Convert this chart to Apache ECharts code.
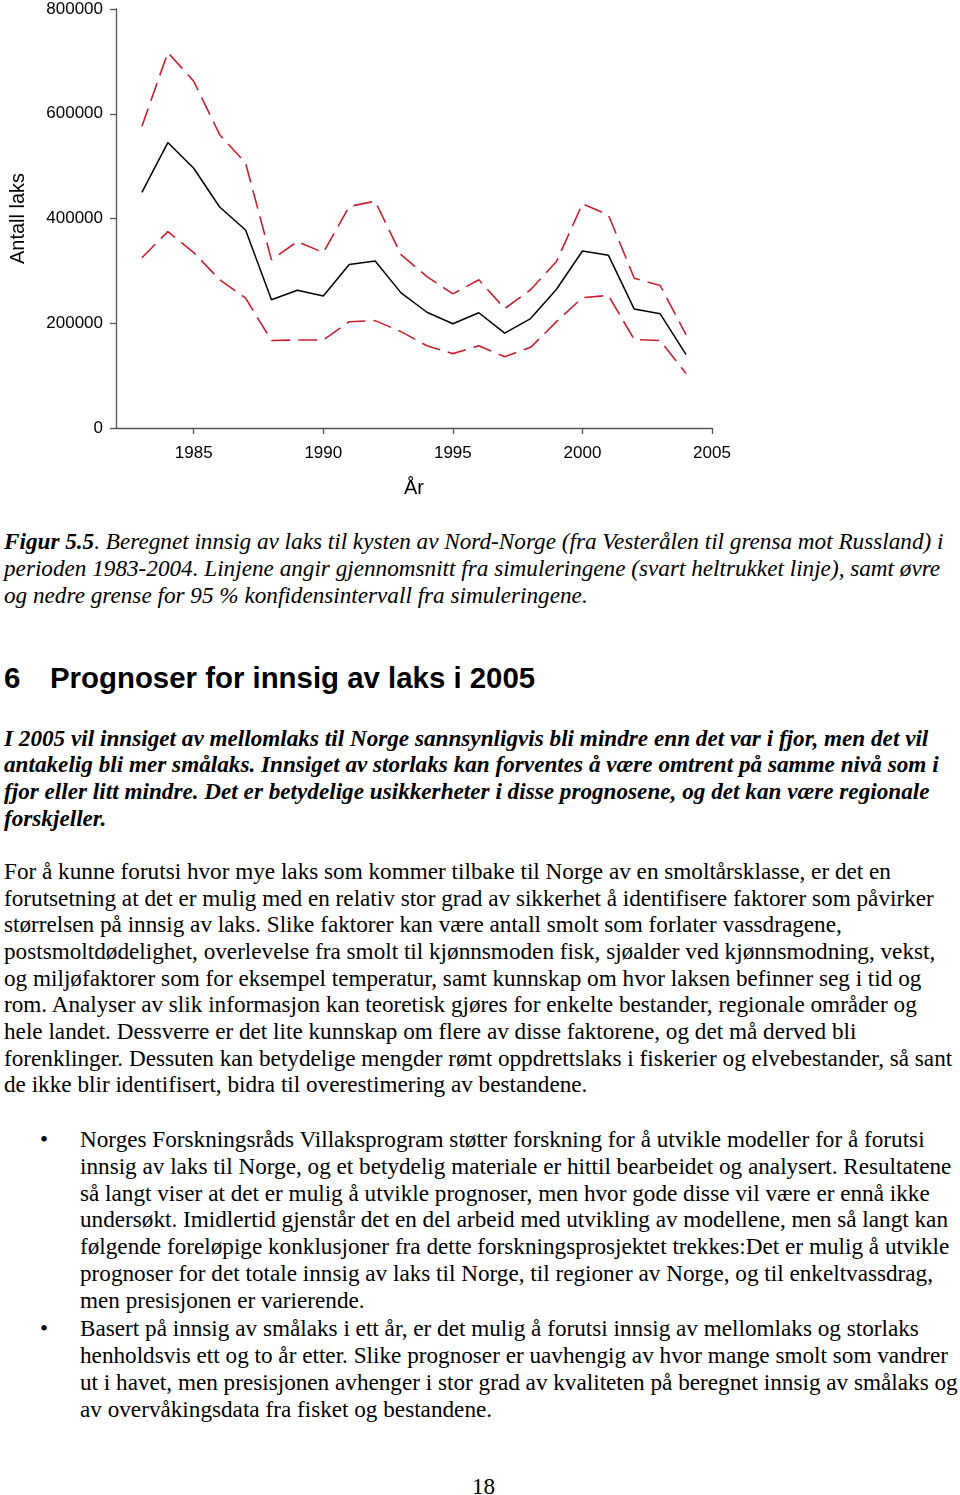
<!DOCTYPE html>
<html><head><meta charset="utf-8">
<script src="https://cdn.jsdelivr.net/npm/echarts@6/dist/echarts.min.js"></script>
<style>
html,body{margin:0;padding:0;background:#fff;width:960px;height:1495px;overflow:hidden;position:relative}
#chart{position:absolute;left:0;top:0;width:960px;height:510px}
.l{position:absolute;left:4px;white-space:nowrap;font-family:"Liberation Serif","Times New Roman",serif;font-size:23.2px;line-height:27px;color:#000}
.i{font-style:italic}
.bi{font-style:italic;font-weight:bold}
.h{font-family:"Liberation Sans",Arial,sans-serif;font-weight:bold;font-size:29.4px;line-height:34px}
.b{left:80px}
.dot{position:absolute;left:40px;font-family:"Liberation Serif",serif;font-size:23.2px;line-height:27px}
</style></head><body>
<div id="chart"></div>
<script>
const years = [1983,1984,1985,1986,1987,1988,1989,1990,1991,1992,1993,1994,1995,1996,1997,1998,1999,2000,2001,2002,2003,2004];
const meanVals = [450000,545000,496000,422000,378000,245000,263000,252000,312000,319000,258000,221000,199000,220000,181000,209000,265000,338000,330000,227000,218000,140000];
const upperVals = [576000,717000,662000,560000,506000,321000,356000,335000,423000,433000,331000,289000,256000,283000,228000,264000,318000,428000,407000,286000,272000,178000];
const lowerVals = [325000,375000,335000,283000,248000,167000,168000,168000,203000,205000,184000,157000,142000,157000,136000,154000,203000,249000,253000,169000,167000,104000];
const xTicks = [1985,1990,1995,2000,2005];
const yName = 'Antall laks';
const xName = 'År';

const pair = v => years.map((y,i)=>[y,v[i]]);
const chart = echarts.init(document.getElementById('chart'));
const axisFont = {fontFamily:'"Liberation Sans",Arial,sans-serif', fontSize:17, color:'#000'};
chart.setOption({
  animation:false,
  grid:{left:112, top:9, width:600, height:419, containLabel:false},
  xAxis:{type:'value', min:1982, max:2005,
    name:xName, nameLocation:'middle', nameGap:50,
    nameTextStyle:{fontFamily:'"Liberation Sans",Arial,sans-serif', fontSize:20, color:'#000'},
    axisLine:{show:true, lineStyle:{color:'#555', width:1.3}},
    axisTick:{show:true, length:6, inside:false, customValues:xTicks, lineStyle:{color:'#555', width:1.3}},
    axisLabel:{customValues:xTicks, margin:17, formatter:v=>String(v), ...axisFont},
    splitLine:{show:false}},
  yAxis:{type:'value', min:0, max:800000, interval:200000,
    name:yName, nameLocation:'middle', nameGap:88, nameRotate:90,
    nameTextStyle:{fontFamily:'"Liberation Sans",Arial,sans-serif', fontSize:20, color:'#000'},
    axisLine:{show:true, lineStyle:{color:'#555', width:1.3}},
    axisTick:{show:true, length:6, lineStyle:{color:'#555', width:1.3}},
    axisLabel:{margin:13, formatter:v=>String(v), ...axisFont},
    splitLine:{show:false}},
  series:[
    {type:'line', data:pair(upperVals), symbol:'none', lineStyle:{color:'#c8202e', width:1.6, type:[19,8]}},
    {type:'line', data:pair(lowerVals), symbol:'none', lineStyle:{color:'#c8202e', width:1.6, type:[19,8]}},
    {type:'line', data:pair(meanVals), symbol:'none', lineStyle:{color:'#000', width:1.5}}
  ]
});
</script>

<div class="l" style="top:528px"><span class="bi">Figur 5.5</span><span class="i">. Beregnet innsig av laks til kysten av Nord-Norge (fra Vesterålen til grensa mot Russland) i</span></div>
<div class="l i" style="top:555px">perioden 1983-2004. Linjene angir gjennomsnitt fra simuleringene (svart heltrukket linje), samt øvre</div>
<div class="l i" style="top:582px">og nedre grense for 95 % konfidensintervall fra simuleringene.</div>

<div class="l h" style="top:661px">6</div>
<div class="l h" style="top:661px;left:50px">Prognoser for innsig av laks i 2005</div>

<div class="l bi" style="top:725px">I 2005 vil innsiget av mellomlaks til Norge sannsynligvis bli mindre enn det var i fjor, men det vil</div>
<div class="l bi" style="top:751px">antakelig bli mer smålaks. Innsiget av storlaks kan forventes å være omtrent på samme nivå som i</div>
<div class="l bi" style="top:778px">fjor eller litt mindre. Det er betydelige usikkerheter i disse prognosene, og det kan være regionale</div>
<div class="l bi" style="top:805px">forskjeller.</div>

<div class="l" style="top:858px">For å kunne forutsi hvor mye laks som kommer tilbake til Norge av en smoltårsklasse, er det en</div>
<div class="l" style="top:885px">forutsetning at det er mulig med en relativ stor grad av sikkerhet å identifisere faktorer som påvirker</div>
<div class="l" style="top:911px">størrelsen på innsig av laks. Slike faktorer kan være antall smolt som forlater vassdragene,</div>
<div class="l" style="top:938px">postsmoltdødelighet, overlevelse fra smolt til kjønnsmoden fisk, sjøalder ved kjønnsmodning, vekst,</div>
<div class="l" style="top:965px">og miljøfaktorer som for eksempel temperatur, samt kunnskap om hvor laksen befinner seg i tid og</div>
<div class="l" style="top:991px">rom. Analyser av slik informasjon kan teoretisk gjøres for enkelte bestander, regionale områder og</div>
<div class="l" style="top:1018px">hele landet. Dessverre er det lite kunnskap om flere av disse faktorene, og det må derved bli</div>
<div class="l" style="top:1045px">forenklinger. Dessuten kan betydelige mengder rømt oppdrettslaks i fiskerier og elvebestander, så sant</div>
<div class="l" style="top:1071px">de ikke blir identifisert, bidra til overestimering av bestandene.</div>

<div class="dot" style="top:1126px">•</div>
<div class="l b" style="top:1126px">Norges Forskningsråds Villaksprogram støtter forskning for å utvikle modeller for å forutsi</div>
<div class="l b" style="top:1153px">innsig av laks til Norge, og et betydelig materiale er hittil bearbeidet og analysert. Resultatene</div>
<div class="l b" style="top:1180px">så langt viser at det er mulig å utvikle prognoser, men hvor gode disse vil være er ennå ikke</div>
<div class="l b" style="top:1206px">undersøkt. Imidlertid gjenstår det en del arbeid med utvikling av modellene, men så langt kan</div>
<div class="l b" style="top:1233px">følgende foreløpige konklusjoner fra dette forskningsprosjektet trekkes:Det er mulig å utvikle</div>
<div class="l b" style="top:1260px">prognoser for det totale innsig av laks til Norge, til regioner av Norge, og til enkeltvassdrag,</div>
<div class="l b" style="top:1287px">men presisjonen er varierende.</div>

<div class="dot" style="top:1315px">•</div>
<div class="l b" style="top:1315px">Basert på innsig av smålaks i ett år, er det mulig å forutsi innsig av mellomlaks og storlaks</div>
<div class="l b" style="top:1342px">henholdsvis ett og to år etter. Slike prognoser er uavhengig av hvor mange smolt som vandrer</div>
<div class="l b" style="top:1369px">ut i havet, men presisjonen avhenger i stor grad av kvaliteten på beregnet innsig av smålaks og</div>
<div class="l b" style="top:1396px">av overvåkingsdata fra fisket og bestandene.</div>

<div class="l" style="top:1473px;left:472px">18</div>
</body></html>
